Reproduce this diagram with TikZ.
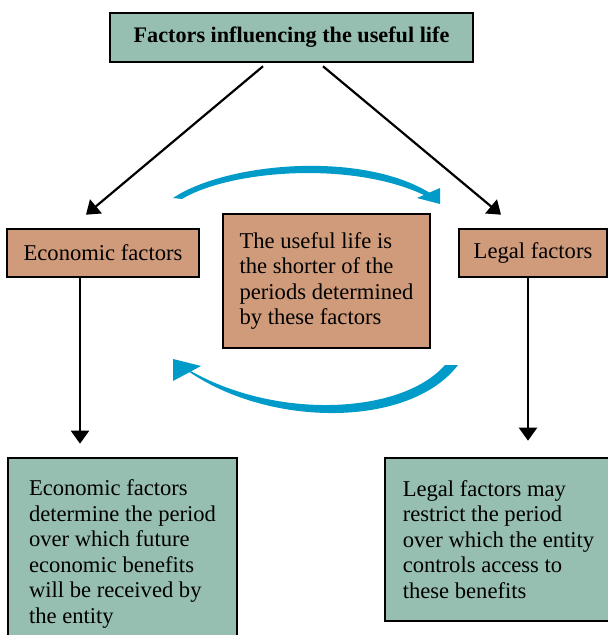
\documentclass[tikz,border=0pt]{standalone}
\usepackage{fontspec}
\setmainfont{Liberation Serif}
\usetikzlibrary{arrows.meta}
\definecolor{sage}{RGB}{150,190,177}
\definecolor{clay}{RGB}{207,155,123}
\definecolor{cyanarc}{RGB}{0,155,200}
\begin{document}
\begin{tikzpicture}[x=0.5pt, y=-0.5pt,
        font=\fontsize{11.3}{12.75}\selectfont,
        box/.style={draw, line width=1.3pt, inner sep=0pt},
        arr/.style={line width=1.1pt, -{Triangle[length=6.5pt, width=9pt]}}]
        \useasboundingbox (0,0) rectangle (608,635);
        \node[box, fill=sage, minimum width=181.5pt, minimum height=24.5pt, font=\fontsize{11.1}{12.75}\selectfont\bfseries] (top) at (291.5,37.5) {Factors influencing the useful life};
        \node[box, fill=clay, minimum width=96pt, minimum height=24pt] (econ) at (103,253) {Economic factors};
        \node[box, fill=clay, minimum width=74pt, minimum height=24pt] (legal) at (533,253) {Legal factors};
        \node[box, fill=clay, minimum width=103.5pt, minimum height=67pt, align=left] (rule) at (326.5,281) {The useful life is\\ the shorter of the\\ periods determined\\ by these factors};
        \node[box, fill=sage, minimum width=114.5pt, minimum height=96pt, align=left] (econdesc) at (122.5,554) {Economic factors\\ determine the period\\ over which future\\ economic benefits\\ will be received by\\ the entity};
        \node[box, fill=sage, minimum width=113.5pt, minimum height=81.5pt, align=left] (legaldesc) at (498.5,539.5) {Legal factors may\\ restrict the period\\ over which the entity\\ controls access to\\ these benefits};
        \draw[arr] ([xshift=-14.25pt,yshift=-1.5pt]top.south) -- ([xshift=-8.5pt,yshift=6.5pt]econ.north);
        \draw[arr] ([xshift=15.75pt,yshift=-1.5pt]top.south) -- ([xshift=-16pt,yshift=6.5pt]legal.north);
        \draw[arr] ([xshift=-11.5pt]econ.south) -- ([xshift=-21.25pt,yshift=6.5pt]econdesc.north);
        \draw[arr] ([xshift=-2.5pt]legal.south) -- ([xshift=14.75pt,yshift=8pt]legaldesc.north);
        \fill[cyanarc] (173,198) .. controls (225,163) and (360,150) .. (430,193) -- (428,197) .. controls (355,160) and (230,170) .. (182,199) -- cycle;
        \fill[cyanarc] (417,198) -- (440,188) -- (440,204) -- cycle;
        \fill[cyanarc] (458,365) .. controls (410,428) and (270,428) .. (188,371) -- (184,367) .. controls (270,420) and (400,416) .. (445,365) -- cycle;
        \fill[cyanarc] (173,359) -- (173,381) -- (201,366) -- cycle;
\end{tikzpicture}
\end{document}
